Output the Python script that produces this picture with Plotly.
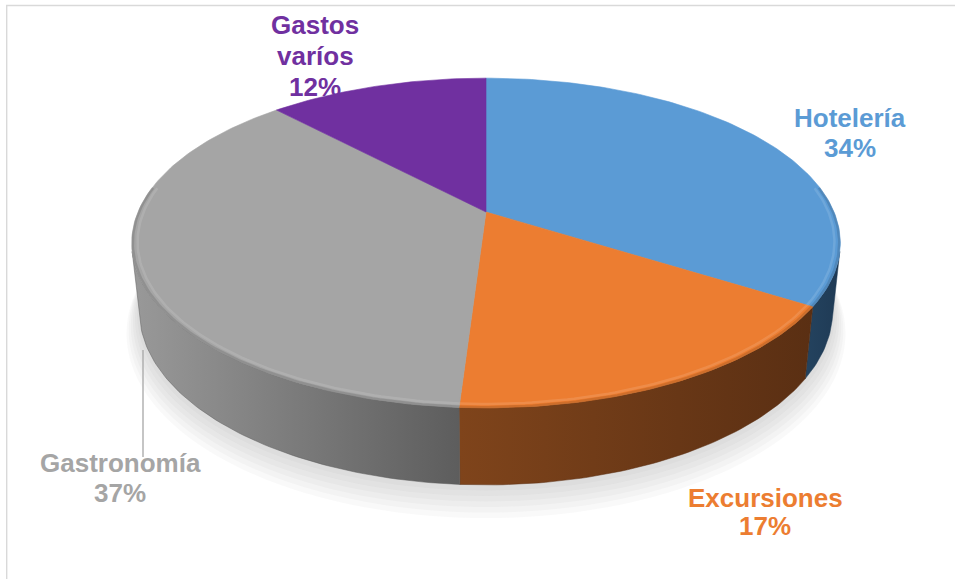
import numpy as np
import plotly.graph_objects as go

# ---- data ----
categories = ["Hotelería", "Excursiones", "Gastronomía", "Gastos varíos"]
shares = [34, 17, 37, 12]  # percent of total spending
top_colors = ["#5B9BD5", "#EC7D31", "#A5A5A5", "#7030A0"]
wall_left = ["#24435f", "#7f441b", "#999999", "#3b1b57"]
wall_right = ["#1f3a55", "#5a2f13", "#5d5d5d", "#3b1b57"]

W, H = 955, 579

# ---- simple perspective camera looking down at a flat disc ----
CX, CY = 486.0, 212.0
SIN_P = 0.457
COS_P = np.sqrt(1 - SIN_P ** 2)
DIST = 4.73
FOCAL = 1646.0
THICK = 0.221


def project(u, v, y):
    """u: right, v: toward viewer, y: up (disc radius = 1)."""
    u, v, y = np.asarray(u, float), np.asarray(v, float), np.asarray(y, float)
    up = y * COS_P - v * SIN_P
    depth = DIST - (y * SIN_P + v * COS_P)
    return CX + FOCAL * u / depth, CY - FOCAL * up / depth


def arc(t0, t1, r=1.0, y=0.0, n=120):
    t = np.linspace(t0, t1, max(int(n * abs(t1 - t0) / (2 * np.pi)) + 2, 3))
    return project(r * np.sin(t), -r * np.cos(t), np.full_like(t, y))


def blend(hex_color, other, k):
    a = np.array([int(hex_color[i:i + 2], 16) for i in (1, 3, 5)])
    b = np.array([int(other[i:i + 2], 16) for i in (1, 3, 5)])
    c = np.round(a * (1 - k) + b * k).astype(int)
    return "#%02x%02x%02x" % tuple(c)


total = float(sum(shares))
bounds = np.concatenate([[0.0], np.cumsum(shares) / total * 2 * np.pi])

# part of the outer wall that faces the camera
v_min = 1.0 / (DIST * COS_P)
vis0 = np.arccos(-v_min)
vis1 = 2 * np.pi - vis0

fig = go.Figure()

# soft shadow under the disc
for k in range(6, 0, -1):
    sx, sy = arc(0, 2 * np.pi, r=1.0 + 0.007 * k, y=-THICK - 0.011 * k, n=240)
    fig.add_trace(go.Scatter(x=sx, y=sy, fill="toself", mode="none",
                             fillcolor="rgba(120,120,120,0.045)", hoverinfo="skip",
                             showlegend=False))

# outer walls
for i in range(len(shares)):
    a0, a1 = max(bounds[i], vis0), min(bounds[i + 1], vis1)
    if a1 <= a0:
        continue
    tx, ty = arc(a0, a1, y=0.0, n=360)
    bx, by = arc(a1, a0, y=-THICK, n=360)
    xs = np.concatenate([tx, bx, tx[:1]])
    ys = np.concatenate([ty, by, ty[:1]])
    fig.add_trace(go.Scatter(
        x=xs, y=ys, fill="toself", mode="lines",
        line=dict(color=wall_right[i], width=0.5),
        fillgradient=dict(type="horizontal",
                          colorscale=[[0, wall_left[i]], [1, wall_right[i]]]),
        hoverinfo="skip", showlegend=False))

# top faces
for i in range(len(shares)):
    ax, ay = arc(bounds[i], bounds[i + 1], y=0.0, n=360)
    cx0, cy0 = project(0, 0, 0)
    xs = np.concatenate([[cx0], ax, [cx0]])
    ys = np.concatenate([[cy0], ay, [cy0]])
    fig.add_trace(go.Scatter(
        x=xs, y=ys, fill="toself", mode="lines",
        fillcolor=top_colors[i], line=dict(color=top_colors[i], width=0.6),
        hoverinfo="skip", showlegend=False))

# rounded rim: soft dark edge and a faint highlight just inside it
rim0, rim1 = np.pi * 0.45, np.pi * 1.55
for i in range(len(shares)):
    a0, a1 = max(bounds[i], rim0), min(bounds[i + 1], rim1)
    if a1 <= a0:
        continue
    ex, ey = arc(a0, a1, r=0.997, y=0.0, n=360)
    fig.add_trace(go.Scatter(x=ex, y=ey, mode="lines",
                             line=dict(color=blend(top_colors[i], "#000000", 0.3), width=2.5),
                             opacity=0.4, hoverinfo="skip", showlegend=False))
    hx, hy = arc(a0, a1, r=0.984, y=0.0, n=360)
    fig.add_trace(go.Scatter(x=hx, y=hy, mode="lines",
                             line=dict(color=blend(top_colors[i], "#ffffff", 0.3), width=2.5),
                             opacity=0.4, hoverinfo="skip", showlegend=False))

# ---- data labels ----
label_font = "Liberation Sans, Arial, sans-serif"
label_pos = [  # centre x, y of each text line
    (850, [117.5, 147.5]),
    (765, [497.5, 526.0]),
    (120, [462.5, 492.5]),
    (315, [24.5, 55.5, 87.0]),
]
annotations = []
for name, share, color, (lx, lys) in zip(categories, shares, top_colors, label_pos):
    lines = name.split(" ") + [f"{share}%"]
    for text, ly in zip(lines, lys):
        annotations.append(dict(
            x=lx, y=ly, xref="x", yref="y", text=f"<b>{text}</b>",
            showarrow=False, xanchor="center", yanchor="middle",
            font=dict(family=label_font, size=26, color=color)))

shapes = [
    # chart frame
    dict(type="rect", xref="x", yref="y", x0=6.7, y0=5.5, x1=W + 20, y1=H + 20,
         line=dict(color="#d9d9d9", width=1.4), layer="below"),
    # leader line for the Gastronomía label
    dict(type="line", xref="x", yref="y", x0=143, y0=350, x1=143, y1=457,
         line=dict(color="#a6a6a6", width=1.3)),
]

fig.update_layout(
    width=W, height=H,
    margin=dict(l=0, r=0, t=0, b=0),
    paper_bgcolor="white", plot_bgcolor="white",
    xaxis=dict(range=[0, W], visible=False, fixedrange=True),
    yaxis=dict(range=[H, 0], visible=False, fixedrange=True),
    annotations=annotations, shapes=shapes,
    showlegend=False,
)

fig.write_html("out.html", config={"displayModeBar": False})
